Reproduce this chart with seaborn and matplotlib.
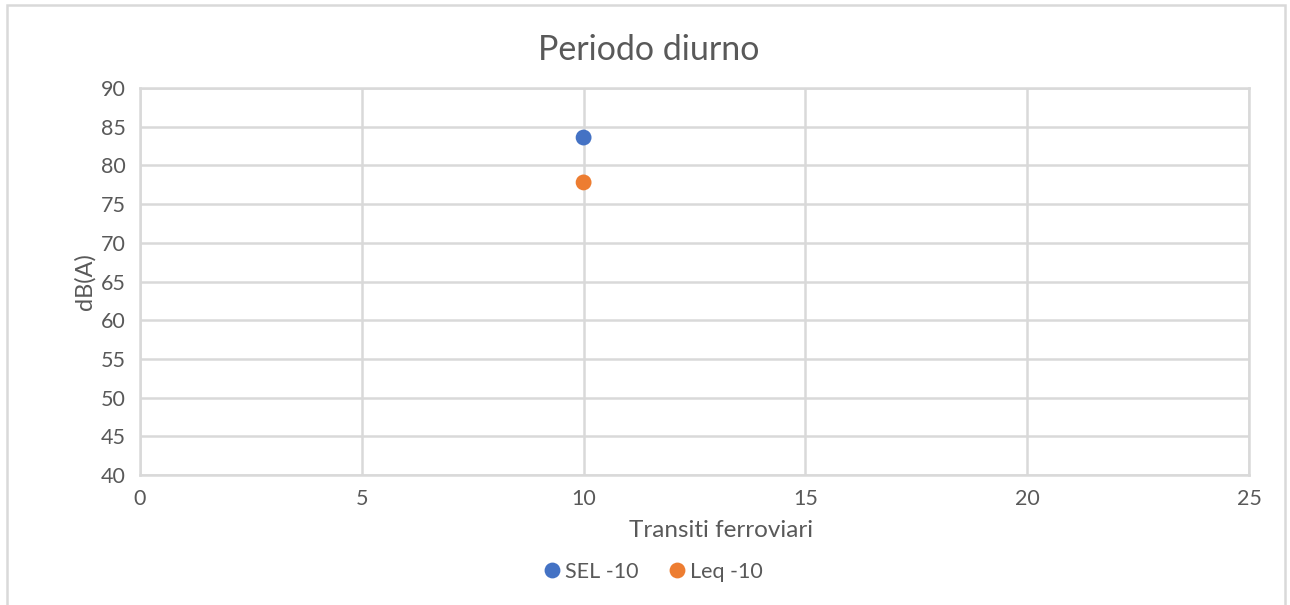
import pandas as pd
import seaborn as sns
import matplotlib.pyplot as plt
from matplotlib.patches import Rectangle

# Data
series = ['SEL -10', 'Leq -10']
transiti = [10, 10]
db_values = [83.6, 77.8]
colors = ['#4472C4', '#ED7D31']

x_ticks = [0, 5, 10, 15, 20, 25]
y_ticks = [40, 45, 50, 55, 60, 65, 70, 75, 80, 85, 90]

df = pd.DataFrame({'serie': series, 'x': transiti, 'y': db_values})

sns.set_style('white')
plt.rcParams['font.family'] = ['Lato', 'DejaVu Sans']
text_col = '#595959'
grid_col = '#D9D9D9'

fig = plt.figure(figsize=(12.9, 6.05), dpi=100)
ax = fig.add_axes([140 / 1290, 1 - 475 / 605, (1249 - 140) / 1290, (475 - 88) / 605])

sns.scatterplot(data=df, x='x', y='y', hue='serie', palette=colors, s=130,
                edgecolor='none', ax=ax, zorder=3)

ax.set_xlim(0, 25)
ax.set_ylim(40, 90)
ax.set_xticks(x_ticks)
ax.set_yticks(y_ticks)
ax.grid(True, color=grid_col, linewidth=1.8)
for sp in ax.spines.values():
    sp.set_color(grid_col)
    sp.set_linewidth(1.8)
ax.tick_params(length=0, labelsize=15.5, labelcolor=text_col, pad=10)

ax.set_xlabel('Transiti ferroviari', fontsize=17.5, color=text_col, labelpad=12)
ax.xaxis.set_label_coords(0.524, -0.115)
ax.set_ylabel('dB(A)', fontsize=17, color=text_col, labelpad=4)

fig.text(0.503, 1 - 50 / 605, 'Periodo diurno', fontsize=24.5, color=text_col,
         ha='center', va='center')

ax.legend(loc='center', bbox_to_anchor=(0.503, 1 - 572 / 605),
          bbox_transform=fig.transFigure, ncol=2, frameon=False,
          fontsize=15.5, labelcolor=text_col, handletextpad=-0.2, columnspacing=1.0,
          handlelength=1.6, markerscale=1.0)

# outer chart border
fig.patches.append(Rectangle((7 / 1290, -0.05), (1285 - 7) / 1290, 1.05 - 5 / 605,
                             transform=fig.transFigure, fill=False,
                             edgecolor=grid_col, linewidth=1.8))

fig.savefig('out.png', dpi=100)
